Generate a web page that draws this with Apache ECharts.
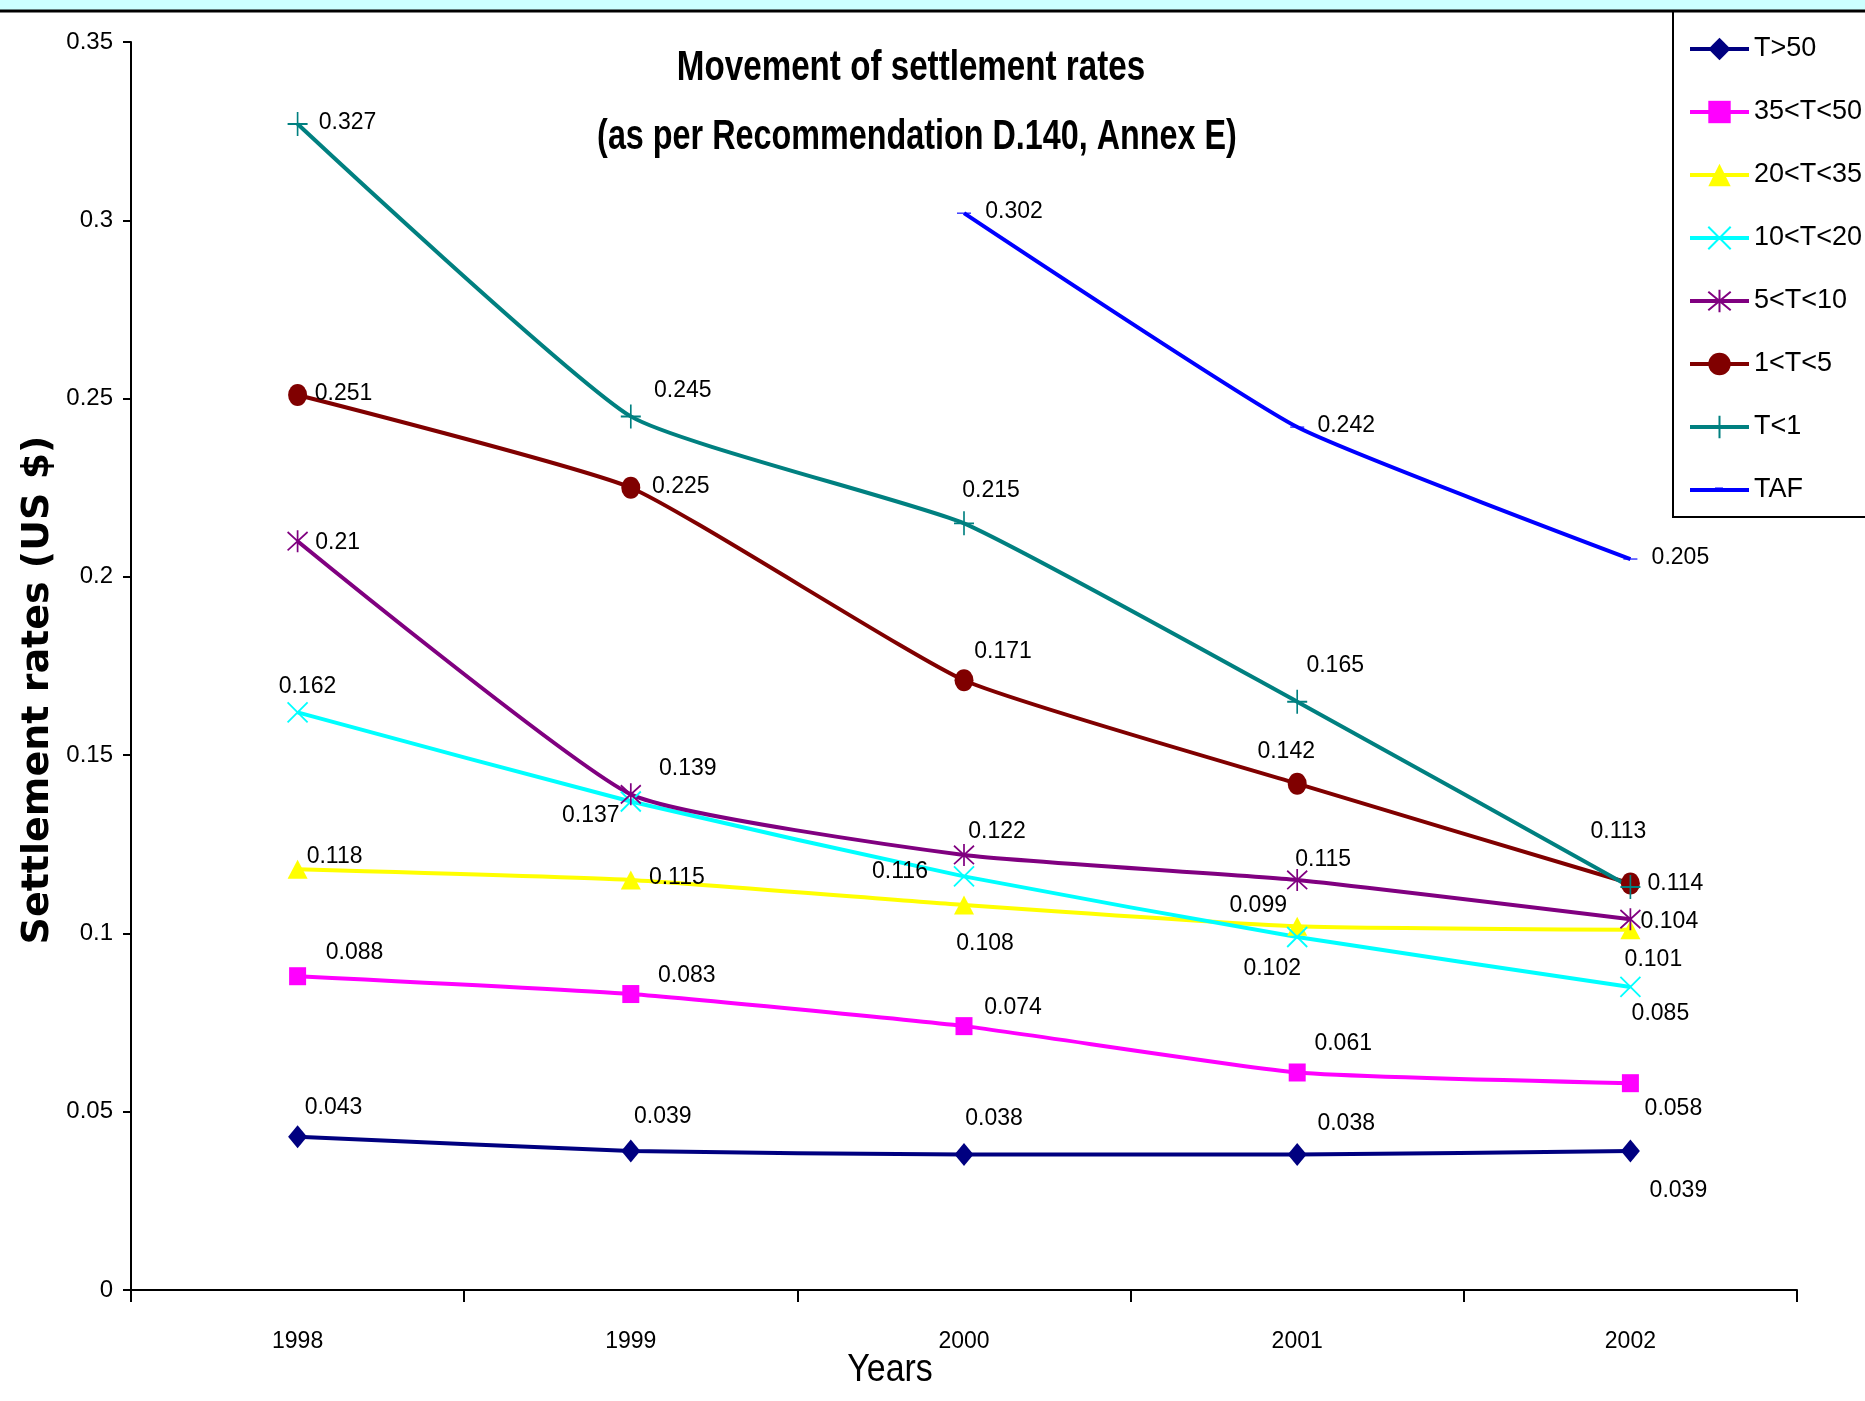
<!DOCTYPE html>
<html><head><meta charset="utf-8">
<script src="https://cdn.jsdelivr.net/npm/echarts@6/dist/echarts.min.js"></script>
<style>html,body{margin:0;padding:0;background:#fff}#c{width:1865px;height:1401px}</style>
</head><body><div id="c"></div>
<script>
// ---- data ----
const years = ['1998', '1999', '2000', '2001', '2002'];
const seriesNames = ['T>50', '35<T<50', '20<T<35', '10<T<20', '5<T<10', '1<T<5', 'T<1', 'TAF'];
const tGt50 = [0.043, 0.039, 0.038, 0.038, 0.039];
const t35to50 = [0.088, 0.083, 0.074, 0.061, 0.058];
const t20to35 = [0.118, 0.115, 0.108, 0.102, 0.101];
const t10to20 = [0.162, 0.137, 0.116, 0.099, 0.085];
const t5to10 = [0.21, 0.139, 0.122, 0.115, 0.104];
const t1to5 = [0.251, 0.225, 0.171, 0.142, 0.114];
const tLt1 = [0.327, 0.245, 0.215, 0.165, 0.113];
const taf = [null, null, 0.302, 0.242, 0.205];
const titleLines = ['Movement of settlement rates', '(as per Recommendation D.140, Annex E)'];

// ---- layout (label offsets in px, per series / point) ----
const labelOffsets = [
  [[36,-29],[32,-34],[30,-36],[49,-31],[48,40]],
  [[57,-24],[56,-18],[49,-18],[46,-29],[43,25]],
  [[37,-13],[46,-2],[21,39],[-25,42],[23,30]],
  [[10,-26],[-40,14],[-64,-5],[-39,-31],[30,27]],
  [[40,1],[57,-26],[33,-23],[26,-20],[39,2]],
  [[46,-1],[50,-1],[39,-29],[-11,-32],[45,0]],
  [[50,-1],[52,-26],[27,-33],[38,-36],[-12,-55]],
  [[0,0],[0,0],[50,-1],[49,-1],[50,-1]]
];
const colors = ['#000080', '#ff00ff', '#ffff00', '#00ffff', '#800080', '#800000', '#008080', '#0000ff'];
const dashIcon = 'path://M0,0L14,0L14,4L0,4Z';
const symbols = [
  'diamond', 'rect', 'triangle',
  'path://M0,0L20,20M20,0L0,20',
  'path://M0,0L20,20M20,0L0,20M10,-2L10,22',
  'circle',
  'path://M0,10L20,10M10,0L10,20',
  dashIcon
];
const symbolSizes = [[19,23], [17,18], [20,19], [20,20], [20,22], [19,22], [20,24], [14,4]];
const allData = [tGt50, t35to50, t20to35, t10to20, t5to10, t1to5, tLt1, taf];

const REG = "'Liberation Sans', Arial, sans-serif";

const series = allData.map((vals, i) => ({
  name: seriesNames[i],
  type: 'line',
  smooth: 0.15,
  data: vals.map((v, j) => ({
    value: v,
    label: { offset: labelOffsets[i][j] }
  })),
  symbol: symbols[i],
  symbolSize: symbolSizes[i],
  symbolKeepAspect: i === 7,
  showAllSymbol: true,
  lineStyle: { color: colors[i], width: 4 },
  itemStyle: {
    color: colors[i],
    borderColor: colors[i],
    borderWidth: (i === 3 || i === 4 || i === 6) ? 1.8 : 0
  },
  label: {
    show: true,
    position: 'inside',
    align: 'center',
    verticalAlign: 'middle',
    color: '#000',
    fontFamily: REG,
    fontSize: 23
  },
  emphasis: { disabled: true },
  animation: false
}));

function scaledText(text, x, y, size, weight, sx) {
  return {
    type: 'text', x: x, y: y, scaleX: sx, silent: true,
    style: {
      text: text, fontFamily: REG, fontWeight: weight, fontSize: size, fill: '#000',
      align: 'center', verticalAlign: 'middle'
    }
  };
}

// TAF legend icon: a plain line with a small dash bump, in a 59x28 box
const tafLegendIcon = 'path://M0,0M0,12L25,12L25,11.5L33,11.5L33,12L59,12L59,16L0,16ZM59,28';
const legendData = seriesNames.map((n, i) => i === 7 ? { name: n, icon: tafLegendIcon } : { name: n });

const chart = echarts.init(document.getElementById('c'), null, { renderer: 'canvas' });
chart.setOption({
  backgroundColor: '#ffffff',
  animation: false,
  legend: {
    orient: 'vertical',
    left: 1683,
    top: 27,
    itemWidth: 59,
    itemHeight: 28,
    itemGap: 29,
    lineStyle: { width: 4 },
    textStyle: { fontFamily: REG, fontSize: 27, lineHeight: 34, color: '#000' },
    data: legendData
  },
  grid: { left: 131, right: 68, top: 42, bottom: 111, containLabel: false },
  xAxis: {
    type: 'category',
    data: years,
    boundaryGap: true,
    axisLine: { lineStyle: { color: '#000', width: 2 } },
    axisTick: { show: true, length: 12, lineStyle: { color: '#000', width: 2 } },
    axisLabel: { color: '#000', fontFamily: REG, fontSize: 23, margin: 40 },
    splitLine: { show: false }
  },
  yAxis: {
    type: 'value',
    min: 0,
    max: 0.35,
    interval: 0.05,
    axisLine: { show: true, lineStyle: { color: '#000', width: 2 } },
    axisTick: { show: true, length: 8, lineStyle: { color: '#000', width: 2 } },
    axisLabel: {
      color: '#000', fontFamily: REG, fontSize: 24, margin: 18,
      formatter: v => String(+v.toFixed(2))
    },
    splitLine: { show: false }
  },
  graphic: [
    { type: 'rect', shape: { x: 0, y: 0, width: 1865, height: 10 }, style: { fill: '#ccffff' }, silent: true },
    { type: 'line', shape: { x1: 0, y1: 11, x2: 1865, y2: 11 }, style: { stroke: '#000', lineWidth: 3 }, silent: true },
    { type: 'rect', shape: { x: 1673, y: 11, width: 260, height: 506 }, style: { fill: 'none', stroke: '#000', lineWidth: 2 }, silent: true },
    scaledText(titleLines[0], 911, 68, 42, 'bold', 0.79),
    scaledText(titleLines[1], 917, 137, 42, 'bold', 0.77),
    scaledText('Years', 890, 1370, 39, 'normal', 0.87),
    {
      type: 'text', x: 38, y: 690, rotation: Math.PI / 2, silent: true,
      style: {
        text: 'Settlement rates (US $)', fontFamily: "'DejaVu Sans', Verdana, sans-serif",
        fontWeight: 'bold', fontSize: 38, fill: '#000', align: 'center', verticalAlign: 'middle'
      }
    }
  ],
  series: series
});
</script>
</body></html>
